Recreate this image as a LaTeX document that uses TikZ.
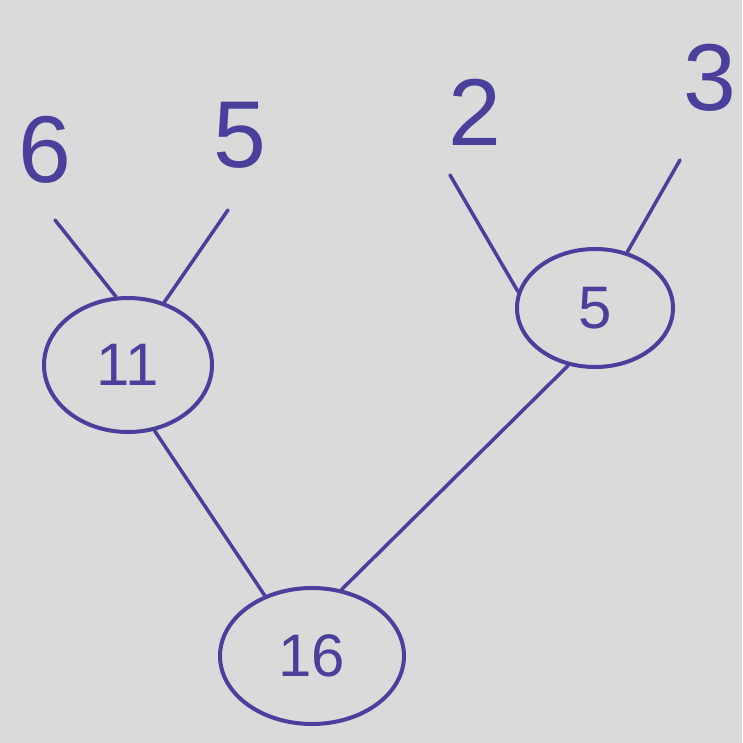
\documentclass[tikz,border=0pt]{standalone}
\usepackage{fontspec}
\setmainfont{Liberation Sans}
\usetikzlibrary{shapes.geometric}
\definecolor{ink}{HTML}{4A3F9A}
\definecolor{paper}{HTML}{DADADA}
\begin{document}
\begin{tikzpicture}[x=1pt,y=-1pt,
  tnode/.style={draw=ink,ellipse,line width=4pt,text=ink,inner sep=0pt,
    font=\fontsize{60}{60}\selectfont},
  leaf/.style={text=ink,font=\fontsize{95}{95}\selectfont,inner sep=0pt},
  edge/.style={draw=ink,line width=3.5pt,line cap=round}]
\fill[paper] (0,0) rectangle (742,743);
\useasboundingbox (0,0) rectangle (742,743);
\node[leaf] (n6) at (45,150) {6};
\node[leaf] (n5a) at (240,135) {5};
\node[leaf] (n2) at (475,112) {2};
\node[leaf] (n3) at (710,78) {3};
\node[tnode,minimum width=168pt,minimum height=134pt] (e11) at (128,365) {11};
\node[tnode,minimum width=156pt,minimum height=118pt] (e5) at (595,308) {5};
\node[tnode,minimum width=184pt,minimum height=136pt] (e16) at (312,656) {16};
\coordinate (c6) at (55,220);
\coordinate (c5a) at (228,210);
\coordinate (c2) at (450,175);
\coordinate (c3) at (680,160);
\draw[edge] (c6) -- (e11.100);
\draw[edge] (c5a) -- (e11.60);
\draw[edge] (c2) -- (e5.168);
\draw[edge] (c3) -- (e5.60);
\draw[edge] (e11.-68) -- (e16.128);
\draw[edge] (e5.-115) -- (e16.66);
\end{tikzpicture}
\end{document}
